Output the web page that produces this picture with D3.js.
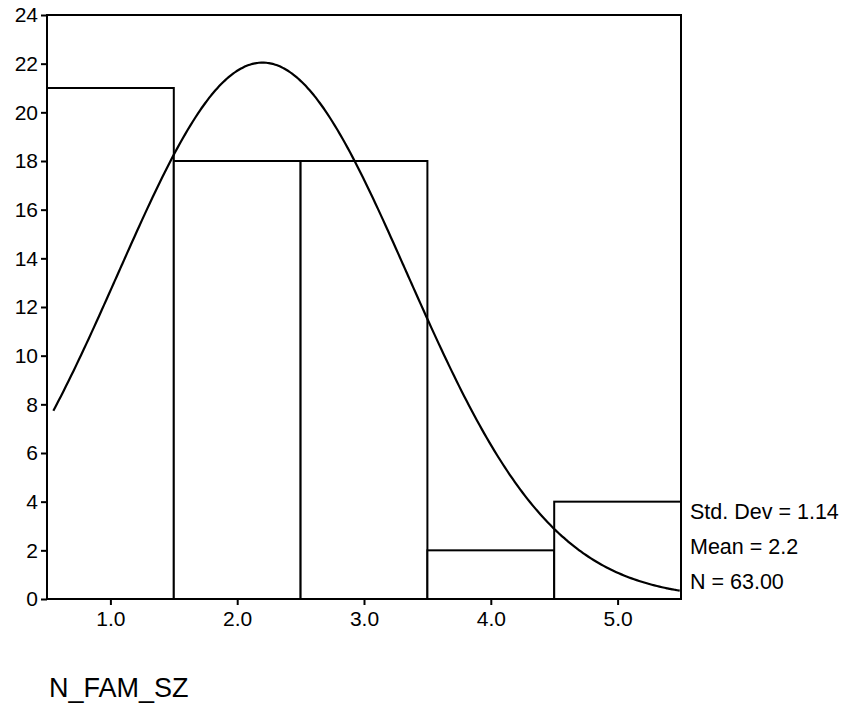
<!DOCTYPE html>
<html>
<head>
<meta charset="utf-8">
<script src="https://cdn.jsdelivr.net/npm/d3@7"></script>
<style>
  html, body { margin: 0; padding: 0; background: #fff; }
  svg text { font-family: Arial, "Liberation Sans", sans-serif; fill: #000; }
</style>
</head>
<body>
<div id="chart"></div>
<script>
// region Data
const binCenters = [1, 2, 3, 4, 5];
const binCounts = [21, 18, 18, 2, 4];
const binWidth = 1;
const yTicks = [0, 2, 4, 6, 8, 10, 12, 14, 16, 18, 20, 22, 24];
const xTicks = [1, 2, 3, 4, 5];
const statLabels = ['Std. Dev = 1.14', 'Mean = 2.2', 'N = 63.00'];
const stdDev = 1.14, mean = 2.2, nTotal = 63;
const axisTitle = 'N_FAM_SZ';
// endregion

let w = 843, h = 707,
    mLeft = 47, mTop = 15,
    Mw = 634, Mh = 584;

let svg = d3.select('#chart')
    .append('svg')
    .attr('width', w)
    .attr('height', h);

let g = svg.append('g')
    .attr('transform', `translate(${mLeft},${mTop})`);

const x = d3.scaleLinear().domain([0.5, 5.5]).range([0, Mw]);
const y = d3.scaleLinear().domain([0, 24]).range([Mh, 0]);

// bars
g.selectAll('.bar')
    .data(binCenters).enter()
    .append('rect')
    .attr('class', 'bar')
    .attr('x', function (d) { return x(d - binWidth / 2) })
    .attr('y', function (d, i) { return y(binCounts[i]) })
    .attr('width', function (d) { return x(d + binWidth / 2) - x(d - binWidth / 2) })
    .attr('height', function (d, i) { return Mh - y(binCounts[i]) })
    .attr('fill', '#fff')
    .attr('stroke', '#000')
    .attr('stroke-width', 2);

// normal curve from the stats shown on the chart
let peak = nTotal * binWidth / (stdDev * Math.sqrt(2 * Math.PI));
let curve = d3.range(0.55, 5.5001, 0.02).map(v => [v, peak * Math.exp(-((v - mean) ** 2) / (2 * stdDev * stdDev))]);

g.append('path')
    .datum(curve)
    .attr('fill', 'none')
    .attr('stroke', '#000')
    .attr('stroke-width', 2.2)
    .attr('d', d3.line().x(d => x(d[0])).y(d => y(d[1])).curve(d3.curveBasis));

// frame
g.append('rect')
    .attr('width', Mw)
    .attr('height', Mh)
    .attr('fill', 'none')
    .attr('stroke', '#000')
    .attr('stroke-width', 2);

// axes
let yAxis = g.append('g')
    .call(d3.axisLeft(y).tickValues(yTicks).tickSize(6).tickPadding(3).tickFormat(d3.format('d')));
let xAxis = g.append('g')
    .attr('transform', `translate(0,${Mh})`)
    .call(d3.axisBottom(x).tickValues(xTicks).tickSize(6).tickPadding(6).tickFormat(d3.format('.1f')));

[yAxis, xAxis].forEach(a => {
    a.select('.domain').remove();
    a.selectAll('line').attr('stroke', '#000').attr('stroke-width', 2);
    a.selectAll('text').style('font-size', '21px').attr('fill', '#000');
});

// stats
svg.selectAll('.stat')
    .data(statLabels).enter()
    .append('text')
    .attr('class', 'stat')
    .attr('x', mLeft + Mw + 9)
    .attr('y', function (d, i) { return 519 + i * 35 })
    .style('font-size', '21.5px')
    .text(d => d);

svg.append('text')
    .attr('x', 49)
    .attr('y', 697)
    .style('font-size', '27px')
    .text(axisTitle);
</script>
</body>
</html>
